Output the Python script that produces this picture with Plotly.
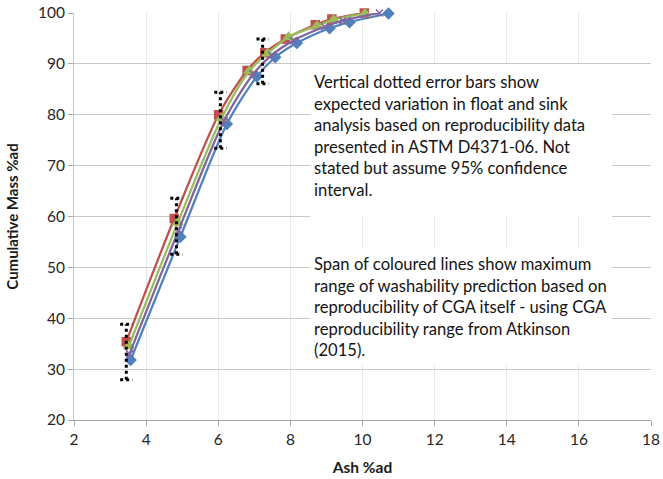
import plotly.graph_objects as go

# Data
red_x = [3.45, 4.78, 6.01, 6.80, 7.29, 7.86, 8.69, 9.15, 10.05]
red_y = [35.4, 59.6, 80.0, 88.7, 92.2, 94.9, 97.7, 98.8, 100.0]
green_x = [3.52, 4.88, 6.09, 6.86, 7.37, 7.95, 8.74, 9.20, 10.07]
green_y = [34.5, 58.8, 79.3, 88.6, 92.1, 95.3, 97.5, 98.7, 99.9]
purple_x = [3.54, 4.90, 6.16, 6.97, 7.48, 8.08, 8.95, 9.45, 10.47]
purple_y = [33.0, 57.3, 78.8, 88.0, 91.7, 94.6, 97.3, 98.5, 100.0]
blue_x = [3.57, 4.95, 6.24, 7.07, 7.58, 8.18, 9.09, 9.64, 10.72]
blue_y = [31.8, 56.0, 78.2, 87.5, 91.3, 94.1, 97.0, 98.2, 99.9]

err_x = [3.45, 4.84, 6.06, 7.23]
err_lo = [27.9, 52.6, 73.4, 86.1]
err_hi = [38.8, 63.6, 84.4, 94.9]

x_ticks = [2, 4, 6, 8, 10, 12, 14, 16, 18]
y_ticks = [20, 30, 40, 50, 60, 70, 80, 90, 100]

note1 = ("Vertical dotted error bars show<br>expected variation in float and sink<br>"
         "analysis based on reproducibility data<br>presented in ASTM D4371-06. Not<br>"
         "stated but assume 95% confidence<br>interval.")
note2 = ("Span of coloured lines show maximum<br>range of washability prediction based on<br>"
         "reproducibility of CGA itself - using CGA<br>reproducibility range from Atkinson<br>(2015).")

FONT = "Lato, Carlito, Calibri, sans-serif"

fig = go.Figure()

series = [
    (blue_x, blue_y, "#4F81BD", "diamond", 8),
    (red_x, red_y, "#C0504D", "square", 8),
    (green_x, green_y, "#9BBB59", "triangle-up", 9),
    (purple_x, purple_y, "#8064A2", "x-thin", 7),
]
for xs, ys, col, sym, sz in series:
    fig.add_trace(go.Scatter(
        x=xs, y=ys, mode="lines+markers",
        line=dict(color=col, width=2.25, shape="spline", smoothing=0.8),
        marker=dict(symbol=sym, size=sz, color=col, line=dict(color=col, width=1.5)),
        showlegend=False, hoverinfo="skip", cliponaxis=False))

# dotted error bars with caps
cap = 0.17
ex, ey = [], []
for x0, lo, hi in zip(err_x, err_lo, err_hi):
    ex += [x0, x0, None, x0 - cap, x0 + cap, None, x0 - cap, x0 + cap, None]
    ey += [lo, hi, None, hi, hi, None, lo, lo, None]
fig.add_trace(go.Scatter(x=ex, y=ey, mode="lines",
                         line=dict(color="black", width=3, dash="dot"),
                         showlegend=False, hoverinfo="skip"))

fig.update_layout(
    width=663, height=479,
    margin=dict(l=73.5, r=12, t=13, b=59, pad=0),
    paper_bgcolor="white", plot_bgcolor="white",
    font=dict(family=FONT, size=15.5, color="#262626"),
    xaxis=dict(range=[2, 18], tickvals=x_ticks, showgrid=True, gridcolor="#E6E6E6",
               gridwidth=1, showline=True, linecolor="#A6A6A6", linewidth=1,
               ticks="outside", ticklen=5, tickcolor="#A6A6A6", zeroline=False,
               automargin=False,
               title=dict(text="<b>Ash %ad</b>", font=dict(size=15.5, family=FONT, color="#1a1a1a"))),
    yaxis=dict(range=[20, 100], tickvals=y_ticks, showgrid=True, gridcolor="#C8C8C8",
               gridwidth=1, showline=True, linecolor="#C8C8C8", linewidth=1,
               ticks="outside", ticklen=5, tickcolor="#A6A6A6", zeroline=False,
               automargin=False,
               title=dict(text="<b>Cumulative Mass %ad</b>", font=dict(size=15, family=FONT, color="#1a1a1a"))),
)

# white text boxes hiding the gridlines
fig.add_shape(type="rect", xref="paper", yref="paper", x0=0.4095, x1=0.9325, y0=0.4988, y1=0.8728,
              fillcolor="white", line=dict(width=0), layer="above")
fig.add_shape(type="rect", xref="paper", yref="paper", x0=0.4095, x1=0.9325, y0=0.1345, y1=0.4225,
              fillcolor="white", line=dict(width=0), layer="above")

fig.add_annotation(xref="paper", yref="paper", x=0.412, y=0.8605, xanchor="left", yanchor="top",
                   text=note1, showarrow=False, align="left",
                   font=dict(family=FONT, size=16.6, color="#141414"))
fig.add_annotation(xref="paper", yref="paper", x=0.412, y=0.4127, xanchor="left", yanchor="top",
                   text=note2, showarrow=False, align="left",
                   font=dict(family=FONT, size=16.6, color="#141414"))

fig.write_html("out.html")
